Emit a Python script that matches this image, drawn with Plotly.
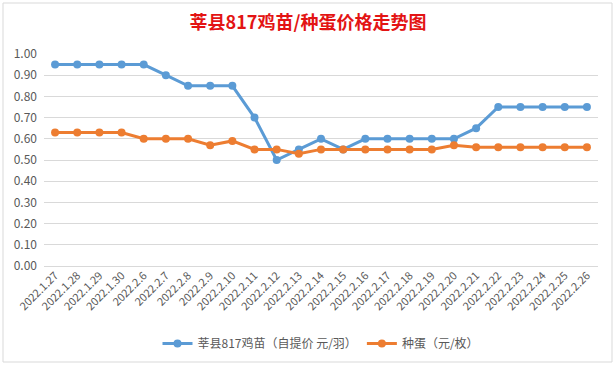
import plotly.graph_objects as go

dates = ["2022.1.27", "2022.1.28", "2022.1.29", "2022.1.30", "2022.2.6", "2022.2.7",
         "2022.2.8", "2022.2.9", "2022.2.10", "2022.2.11", "2022.2.12", "2022.2.13",
         "2022.2.14", "2022.2.15", "2022.2.16", "2022.2.17", "2022.2.18", "2022.2.19",
         "2022.2.20", "2022.2.21", "2022.2.22", "2022.2.23", "2022.2.24", "2022.2.25",
         "2022.2.26"]
chick_price = [0.95, 0.95, 0.95, 0.95, 0.95, 0.90, 0.85, 0.85, 0.85, 0.70, 0.50, 0.55,
               0.60, 0.55, 0.60, 0.60, 0.60, 0.60, 0.60, 0.65, 0.75, 0.75, 0.75, 0.75, 0.75]
egg_price = [0.63, 0.63, 0.63, 0.63, 0.60, 0.60, 0.60, 0.57, 0.59, 0.55, 0.55, 0.53,
             0.55, 0.55, 0.55, 0.55, 0.55, 0.55, 0.57, 0.56, 0.56, 0.56, 0.56, 0.56, 0.56]
y_ticks = [0.0, 0.1, 0.2, 0.3, 0.4, 0.5, 0.6, 0.7, 0.8, 0.9, 1.0]

font_family = "Noto Sans CJK SC, Liberation Sans, sans-serif"

fig = go.Figure()
fig.add_trace(go.Scatter(
    x=dates, y=chick_price, name="莘县817鸡苗（自提价 元/羽）",
    mode="lines+markers",
    line=dict(color="#5b9bd5", width=3),
    marker=dict(color="#5b9bd5", size=8),
))
fig.add_trace(go.Scatter(
    x=dates, y=egg_price, name="种蛋（元/枚）",
    mode="lines+markers",
    line=dict(color="#ed7d31", width=3),
    marker=dict(color="#ed7d31", size=8),
))

fig.update_layout(
    width=616, height=365,
    margin=dict(l=44, r=18, t=54, b=99, autoexpand=False),
    paper_bgcolor="white", plot_bgcolor="white",
    font=dict(family=font_family, color="#595959", size=12),
    title=dict(text="<b>莘县817鸡苗/种蛋价格走势图</b>", x=0.5, xanchor="center",
               y=0.937, yanchor="middle",
               font=dict(family=font_family, size=18, color="#e31414")),
    showlegend=True,
    legend=dict(orientation="h", x=0.5, xanchor="center", y=-0.365, yanchor="middle",
                font=dict(size=12, color="#595959"), bgcolor="rgba(0,0,0,0)"),
    xaxis=dict(type="category", tickangle=-45, tickfont=dict(size=11, color="#595959"),
               showgrid=False, showline=False, ticks="", range=[-0.5, 24.5],
               automargin=False),
    yaxis=dict(range=[0, 1.0], tickvals=y_ticks, tickformat=".2f",
               tickfont=dict(size=12, color="#595959"),
               showgrid=True, gridcolor="#d9d9d9", gridwidth=1,
               zeroline=True, zerolinecolor="#d9d9d9", zerolinewidth=1,
               showline=False, ticks="", ticklabelstandoff=6, automargin=False),
    shapes=[dict(type="rect", xref="paper", yref="paper",
                 x0=-41/554, x1=1+14/554, y0=-96/212, y1=1+51/212,
                 line=dict(color="#d9d9d9", width=1))],
)

fig.write_html("out.html", config={"displayModeBar": False},
               post_script="document.body.style.margin='0';document.body.style.overflow='hidden';")
